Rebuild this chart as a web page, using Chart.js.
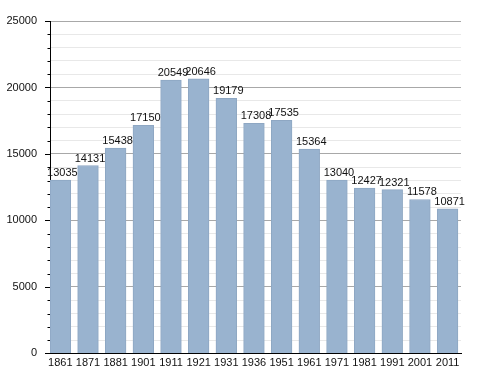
<!DOCTYPE html>
<html>
<head>
<meta charset="utf-8">
<script src="https://cdn.jsdelivr.net/npm/chart.js@4"></script>
<style>
  html, body { margin: 0; padding: 0; background: #fff; }
  #wrap { width: 488px; height: 373px; }
</style>
</head>
<body>
<div id="wrap"><canvas id="myChart" width="488" height="373"></canvas></div>
<script>
// population by census year
const years = ["1861", "1871", "1881", "1901", "1911", "1921", "1931", "1936",
  "1951", "1961", "1971", "1981", "1991", "2001", "2011"];
const population = [13035, 14131, 15438, 17150, 20549, 20646, 19179, 17308,
  17535, 15364, 13040, 12427, 12321, 11578, 10871];
const yTicks = [0, 5000, 10000, 15000, 20000, 25000];

const font = { family: "'Liberation Sans', Arial, sans-serif", size: 11 };

// value labels over the bars
const barLabels = {
  id: "barLabels",
  afterDatasetsDraw(chart) {
    const ctx = chart.ctx;
    const meta = chart.getDatasetMeta(0);
    ctx.save();
    ctx.font = font.size + "px " + font.family;
    ctx.fillStyle = "#111";
    ctx.textAlign = "center";
    ctx.textBaseline = "alphabetic";
    meta.data.forEach(function (bar, i) {
      ctx.fillText(String(population[i]), bar.x + 2, bar.y - 4);
    });
    ctx.restore();
  },
};

// tick marks on the left axis: long for majors, short for minors
const yTickMarks = {
  id: "yTickMarks",
  afterDraw(chart) {
    const y = chart.scales.y;
    const ctx = chart.ctx;
    ctx.save();
    ctx.strokeStyle = "#000";
    ctx.lineWidth = 1;
    y.ticks.forEach(function (t) {
      const py = Math.round(y.getPixelForValue(t.value)) + 0.5;
      const len = t.value % 5000 === 0 ? 5 : 2.5;
      ctx.beginPath();
      ctx.moveTo(y.right - len, py);
      ctx.lineTo(y.right, py);
      ctx.stroke();
    });
    ctx.restore();
  },
};

const ctx = document.getElementById("myChart").getContext("2d");
new Chart(ctx, {
  type: "bar",
  data: {
    datasets: [
      {
        data: population.map(function (v, i) { return { x: i, y: v }; }),
        backgroundColor: "#99b3cf",
        borderColor: "#8ea7c3",
        borderWidth: 1,
        barThickness: 20.7,
      },
    ],
  },
  options: {
    responsive: false,
    animation: false,
    layout: { padding: { top: 21, right: 27, bottom: 0, left: 0 } },
    plugins: {
      legend: { display: false },
      tooltip: { enabled: false },
    },
    scales: {
      x: {
        type: "linear",
        offset: false,
        min: -0.374,
        max: 14.485,
        afterBuildTicks(scale) {
          scale.ticks = years.map(function (_, i) { return { value: i }; });
        },
        afterFit(scale) { scale.height = 19; },
        grid: { display: false, drawTicks: false, offset: false },
        border: { display: true, color: "#000", width: 1 },
        ticks: {
          color: "#111",
          font: font,
          padding: 3,
          maxRotation: 0,
          autoSkip: false,
          callback: function (v) { return years[v]; },
        },
      },
      y: {
        min: 0,
        max: 25000,
        afterBuildTicks(scale) {
          const t = [];
          for (let v = 0; v <= 25000; v += 1000) t.push({ value: v });
          scale.ticks = t;
        },
        afterFit(scale) { scale.width = 50; },
        grid: {
          drawTicks: false,
          color: function (c) {
            return c.tick.value % 5000 === 0 ? "#a8a8a8" : "#e8e8e8";
          },
        },
        border: { display: true, color: "#000", width: 1 },
        ticks: {
          color: "#111",
          font: font,
          padding: 13,
          autoSkip: false,
          callback: function (v) { return yTicks.includes(v) ? v : ""; },
        },
      },
    },
  },
  plugins: [barLabels, yTickMarks],
});
</script>
</body>
</html>
